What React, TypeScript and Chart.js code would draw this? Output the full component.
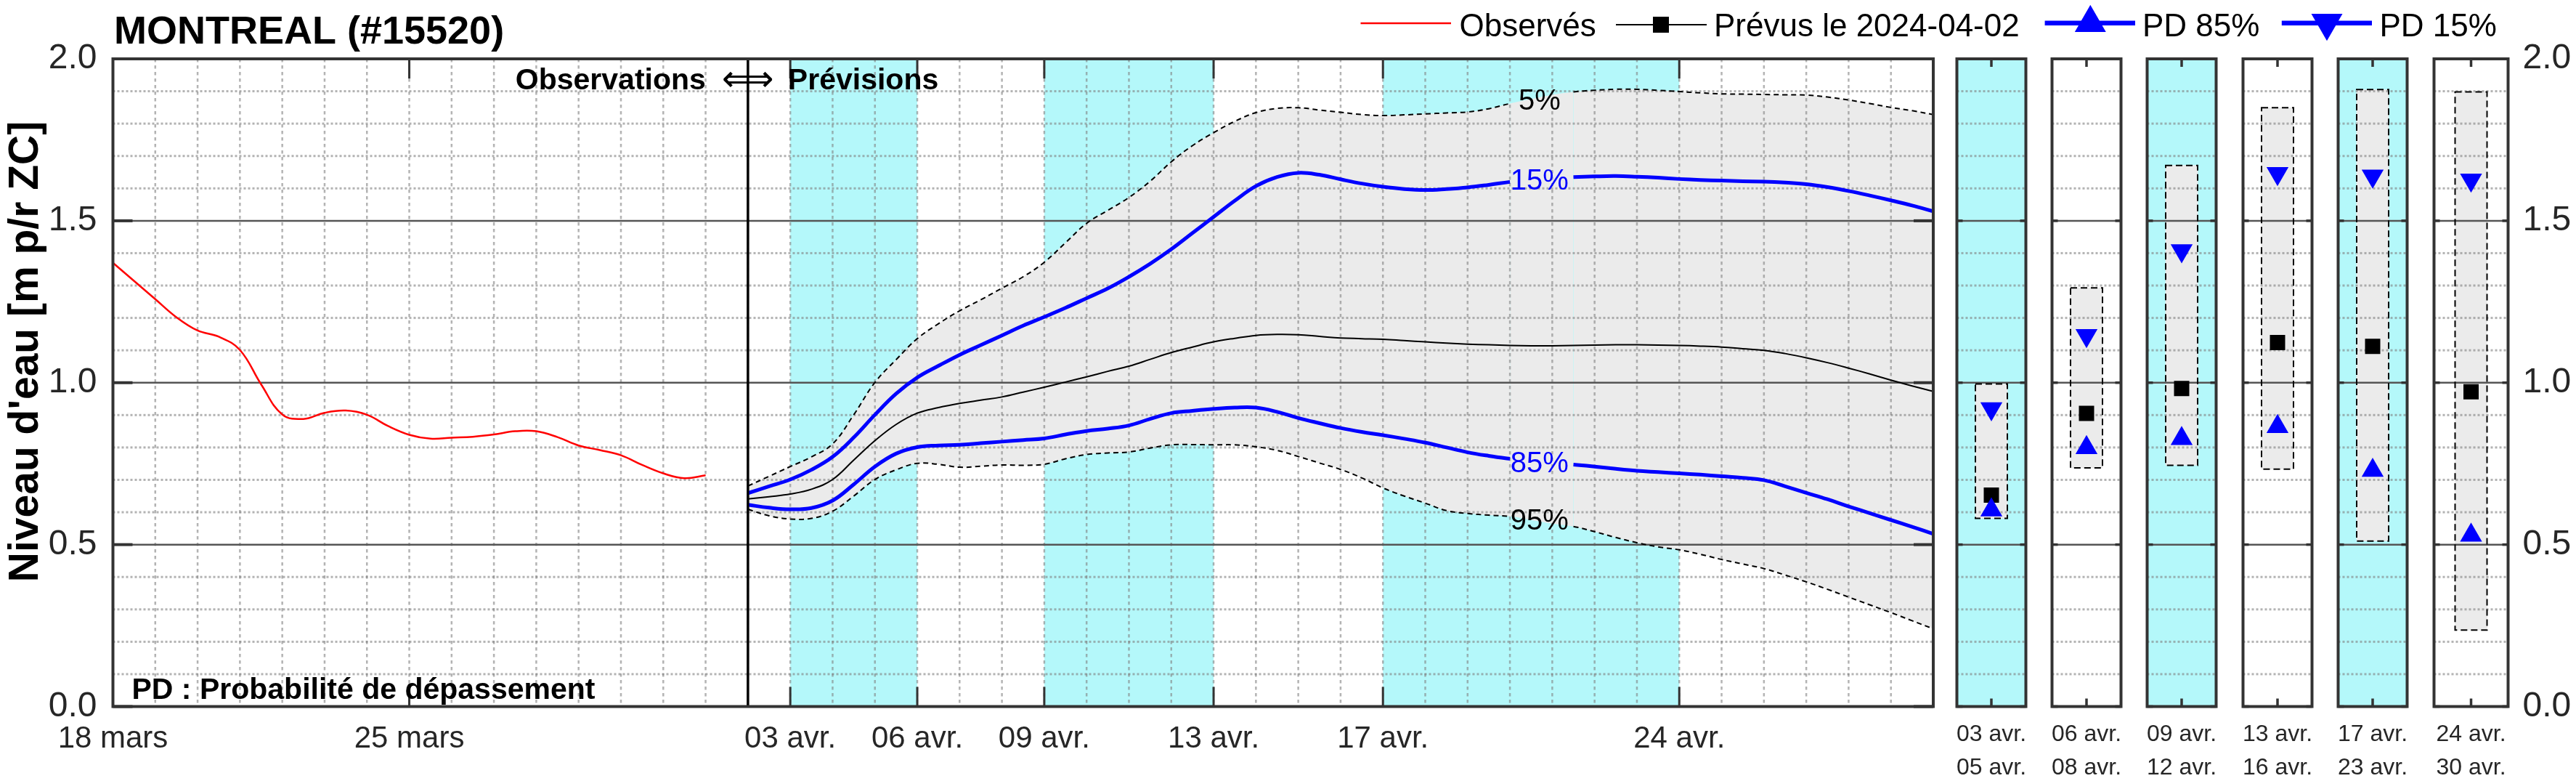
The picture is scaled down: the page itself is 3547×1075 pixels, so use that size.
import { useEffect, useRef } from 'react';
import { Chart, registerables } from 'chart.js';

Chart.register(...registerables);

// ---------------- DATA ----------------
const chartTitle = 'MONTREAL (#15520)';
const yAxisTitle = "Niveau d'eau [m p/r ZC]";
const legendLabels = ['Observés', 'Prévus le 2024-04-02', 'PD 85%', 'PD 15%'];

// x in days since 18 mars 00:00
const mainTickDays = [0, 7, 16, 19, 22, 26, 30, 37];
const mainTickLabels = ['18 mars', '25 mars', '03 avr.', '06 avr.', '09 avr.', '13 avr.', '17 avr.', '24 avr.'];
const shadedRanges = [[16, 19], [22, 26], [30, 37]];
const forecastStartDay = 15;
const dayMin = 0;
const dayMax = 43;

const obsDays = [0, 0.5, 1, 1.5, 2, 2.5, 3, 3.5, 4, 4.5, 5, 5.5, 6, 6.5, 7, 7.5, 8, 8.5, 9, 9.5, 10, 10.5, 11, 11.5, 12, 12.5, 13, 13.5, 14];
const obsLevels = [1.370, 1.314, 1.258, 1.202, 1.161, 1.142, 1.101, 0.995, 0.902, 0.888, 0.907, 0.914, 0.901, 0.866, 0.839, 0.827, 0.830, 0.833, 0.840, 0.850, 0.850, 0.832, 0.806, 0.792, 0.776, 0.746, 0.720, 0.705, 0.714];

const fcDays = [15, 15.5, 16, 16.5, 17, 17.5, 18, 18.5, 19, 19.5, 20, 20.5, 21, 21.5, 22, 22.5, 23, 23.5, 24, 24.5, 25, 25.5, 26, 26.5, 27, 27.5, 28, 28.5, 29, 29.5, 30, 30.5, 31, 31.5, 32, 32.5, 33, 33.5, 34, 34.5, 35, 35.5, 36, 36.5, 37, 37.5, 38, 38.5, 39, 39.5, 40, 40.5, 41, 41.5, 42, 42.5, 43];
const fcP05 = [0.681, 0.711, 0.741, 0.771, 0.811, 0.901, 1.001, 1.071, 1.136, 1.182, 1.222, 1.256, 1.292, 1.327, 1.372, 1.432, 1.492, 1.532, 1.572, 1.622, 1.682, 1.732, 1.772, 1.807, 1.834, 1.847, 1.849, 1.842, 1.835, 1.828, 1.825, 1.827, 1.830, 1.833, 1.836, 1.846, 1.862, 1.876, 1.889, 1.898, 1.903, 1.906, 1.906, 1.903, 1.899, 1.895, 1.892, 1.891, 1.890, 1.889, 1.888, 1.882, 1.873, 1.862, 1.850, 1.840, 1.828];
const fcP15 = [0.659, 0.680, 0.701, 0.731, 0.771, 0.831, 0.901, 0.966, 1.016, 1.052, 1.086, 1.116, 1.146, 1.176, 1.203, 1.231, 1.261, 1.291, 1.327, 1.367, 1.412, 1.462, 1.512, 1.562, 1.607, 1.635, 1.648, 1.642, 1.628, 1.615, 1.605, 1.598, 1.595, 1.598, 1.603, 1.611, 1.620, 1.627, 1.632, 1.635, 1.637, 1.638, 1.636, 1.633, 1.629, 1.626, 1.624, 1.622, 1.621, 1.618, 1.613, 1.604, 1.592, 1.578, 1.563, 1.547, 1.529];
const fcP50 = [0.641, 0.648, 0.656, 0.671, 0.701, 0.761, 0.821, 0.871, 0.906, 0.923, 0.936, 0.946, 0.956, 0.971, 0.986, 1.002, 1.018, 1.035, 1.051, 1.072, 1.093, 1.110, 1.126, 1.137, 1.146, 1.149, 1.148, 1.143, 1.138, 1.136, 1.134, 1.130, 1.126, 1.122, 1.119, 1.117, 1.115, 1.114, 1.114, 1.115, 1.116, 1.117, 1.117, 1.116, 1.115, 1.113, 1.110, 1.105, 1.100, 1.090, 1.077, 1.062, 1.045, 1.027, 1.008, 0.990, 0.973];
const fcP85 = [0.623, 0.614, 0.609, 0.613, 0.636, 0.686, 0.741, 0.781, 0.801, 0.806, 0.808, 0.813, 0.818, 0.823, 0.828, 0.840, 0.851, 0.858, 0.868, 0.888, 0.906, 0.913, 0.919, 0.923, 0.923, 0.910, 0.891, 0.875, 0.860, 0.848, 0.838, 0.827, 0.815, 0.800, 0.785, 0.774, 0.765, 0.757, 0.751, 0.747, 0.741, 0.734, 0.728, 0.724, 0.720, 0.716, 0.711, 0.706, 0.699, 0.680, 0.660, 0.640, 0.618, 0.597, 0.576, 0.555, 0.533];
const fcP95 = [0.609, 0.589, 0.579, 0.581, 0.603, 0.650, 0.701, 0.731, 0.751, 0.748, 0.739, 0.742, 0.746, 0.745, 0.748, 0.765, 0.778, 0.783, 0.786, 0.798, 0.808, 0.809, 0.808, 0.808, 0.802, 0.791, 0.772, 0.752, 0.732, 0.706, 0.675, 0.650, 0.628, 0.605, 0.596, 0.591, 0.587, 0.576, 0.565, 0.556, 0.540, 0.522, 0.506, 0.493, 0.484, 0.470, 0.454, 0.440, 0.426, 0.406, 0.385, 0.362, 0.338, 0.314, 0.290, 0.265, 0.240];

const pctLabels = ['5%', '15%', '85%', '95%'];
const pctLabelValues = [1.868, 1.622, 0.749, 0.572];
const pctLabelDay = 33.7;
const pctGap = [33, 34.5];

const panelLabels = [['03 avr.', '05 avr.'], ['06 avr.', '08 avr.'], ['09 avr.', '12 avr.'], ['13 avr.', '16 avr.'], ['17 avr.', '23 avr.'], ['24 avr.', '30 avr.']];
const panelShaded = [true, false, true, false, true, false];
const panelP05 = [0.996, 1.293, 1.671, 1.849, 1.905, 1.898];
const panelP95 = [0.581, 0.737, 0.745, 0.733, 0.511, 0.236];
const panelP50 = [0.653, 0.905, 0.982, 1.124, 1.112, 0.972];
const panelP15 = [0.920, 1.146, 1.408, 1.646, 1.638, 1.626];
const panelP85 = [0.607, 0.799, 0.827, 0.864, 0.729, 0.529];

// ---------------- LAYOUT / STYLE ----------------
const W = 3547;
const H = 1075;
const PLOT_TOP = 81;
const PLOT_BOTTOM = 972.5;
const MAIN_LEFT = 155.5;
const MAIN_RIGHT = 2662;
const PANEL_LEFT0 = 2686.5;
const PANEL_STEP = 131.4;
const PANEL_W = 110;
const PANEL_MARGIN = 10;

const FONT = '"Liberation Sans", Arial, Helvetica, sans-serif';
const TEXT = '#262626';
const CYAN = '#b4f8fa';
const BAND = '#ebebeb';
const BLUE = '#0000ff';
const FRAME = '#333333';
const GRID = 'rgba(128,128,128,0.6)';
const MAJOR = '#555555';

const toXY = (xs: number[], ys: number[]) => xs.map((x, i) => ({ x, y: ys[i] }));

function line(ctx: CanvasRenderingContext2D, x0: number, y0: number, x1: number, y1: number) {
  ctx.beginPath();
  ctx.moveTo(x0, y0);
  ctx.lineTo(x1, y1);
  ctx.stroke();
}

function triangle(ctx: CanvasRenderingContext2D, cx: number, cy: number, r: number, down: boolean) {
  const s = down ? -1 : 1;
  ctx.beginPath();
  ctx.moveTo(cx, cy - s * r);
  ctx.lineTo(cx + r * 0.8660254, cy + (s * r) / 2);
  ctx.lineTo(cx - r * 0.8660254, cy + (s * r) / 2);
  ctx.closePath();
  ctx.fill();
}

function drawHGrid(ctx: CanvasRenderingContext2D, a: any, y: any) {
  ctx.save();
  for (let k = 1; k < 20; k++) {
    const py = y.getPixelForValue(k / 10);
    if (k % 5 === 0) {
      ctx.setLineDash([]);
      ctx.strokeStyle = MAJOR;
      ctx.lineWidth = 2.5;
    } else {
      ctx.setLineDash([3, 3]);
      ctx.strokeStyle = GRID;
      ctx.lineWidth = 3;
    }
    line(ctx, a.left, py, a.right, py);
  }
  ctx.restore();
}

const BAND_INDEX = 6;

const inGap = (c: any) => c.p0.parsed.x >= pctGap[0] - 1e-9 && c.p1.parsed.x <= pctGap[1] + 1e-9;

const mainDecor = {
  id: 'mainDecor',
  beforeDatasetsDraw(chart: any) {
    const { ctx, chartArea: a, scales } = chart;
    const x = scales.x;
    ctx.save();
    ctx.fillStyle = CYAN;
    for (const [d0, d1] of shadedRanges) {
      const x0 = x.getPixelForValue(d0);
      const x1 = x.getPixelForValue(d1);
      ctx.fillRect(x0, a.top, x1 - x0, a.bottom - a.top);
    }
    ctx.restore();
  },
  afterDatasetDraw(chart: any, args: any) {
    if (args.index !== BAND_INDEX) return;
    const { ctx, chartArea: a, scales } = chart;
    const x = scales.x;
    ctx.save();
    ctx.strokeStyle = GRID;
    ctx.lineWidth = 2.5;
    ctx.setLineDash([4.5, 4.5]);
    for (let d = dayMin + 1; d < dayMax; d++) {
      const px = x.getPixelForValue(d);
      line(ctx, px, a.top, px, a.bottom);
    }
    ctx.restore();
    drawHGrid(ctx, a, scales.y);
  },
  afterDatasetsDraw(chart: any) {
    const { ctx, chartArea: a, scales } = chart;
    const x = scales.x;
    const y = scales.y;
    ctx.save();
    // percentile labels
    ctx.font = `40px ${FONT}`;
    ctx.textAlign = 'center';
    ctx.textBaseline = 'middle';
    const colors = ['#000', BLUE, BLUE, '#000'];
    pctLabels.forEach((t, k) => {
      ctx.fillStyle = colors[k];
      ctx.fillText(t, x.getPixelForValue(pctLabelDay), y.getPixelForValue(pctLabelValues[k]));
    });
    // separator
    const sx = x.getPixelForValue(forecastStartDay);
    ctx.strokeStyle = '#000';
    ctx.lineWidth = 3.5;
    line(ctx, sx, a.top, sx, a.bottom);
    // ticks
    ctx.strokeStyle = FRAME;
    ctx.lineWidth = 3;
    for (const d of mainTickDays) {
      const px = x.getPixelForValue(d);
      line(ctx, px, a.top, px, a.top + 27);
      line(ctx, px, a.bottom, px, a.bottom - 27);
    }
    ctx.lineWidth = 4;
    for (const t of y.ticks) {
      const py = y.getPixelForValue(t.value);
      line(ctx, a.left, py, a.left + 27, py);
      line(ctx, a.right, py, a.right - 27, py);
    }
    // frame
    ctx.strokeStyle = FRAME;
    ctx.lineWidth = 4;
    ctx.strokeRect(a.left, a.top, a.right - a.left, a.bottom - a.top);
    // texts
    ctx.fillStyle = '#000';
    ctx.textBaseline = 'alphabetic';
    ctx.font = `bold 41px ${FONT}`;
    ctx.textAlign = 'right';
    ctx.fillText('Observations', sx - 58, 123);
    ctx.textAlign = 'left';
    ctx.fillText('Prévisions', sx + 55, 123);
    ctx.textAlign = 'center';
    ctx.font = `50px "DejaVu Sans", sans-serif`;
    ctx.fillText('\u27FA', sx, 125);
    ctx.textAlign = 'left';
    ctx.font = `bold 41px ${FONT}`;
    ctx.fillText('PD : Probabilité de dépassement', a.left + 26, 962);
    ctx.restore();
  },
  afterDraw(chart: any) {
    const { ctx } = chart;
    ctx.save();
    ctx.fillStyle = '#000';
    ctx.textAlign = 'left';
    ctx.textBaseline = 'alphabetic';
    ctx.font = `bold 54px ${FONT}`;
    ctx.fillText(chartTitle, 157, 60);
    // y axis title
    ctx.save();
    ctx.translate(36, 484);
    ctx.rotate(-Math.PI / 2);
    ctx.textAlign = 'center';
    ctx.textBaseline = 'middle';
    ctx.font = `bold 57px ${FONT}`;
    ctx.fillText(yAxisTitle, 0, 0);
    ctx.restore();
    // legend
    ctx.font = `44px ${FONT}`;
    ctx.strokeStyle = '#ff0000';
    ctx.lineWidth = 2.5;
    line(ctx, 1873.5, 32, 1998, 32);
    ctx.fillText(legendLabels[0], 2009.5, 50);
    ctx.strokeStyle = '#000';
    ctx.lineWidth = 2;
    line(ctx, 2225, 34, 2350, 34);
    ctx.fillRect(2276, 23, 22, 22);
    ctx.fillText(legendLabels[1], 2360, 50);
    ctx.strokeStyle = BLUE;
    ctx.fillStyle = BLUE;
    ctx.lineWidth = 6.5;
    line(ctx, 2815.6, 31.7, 2940, 31.7);
    triangle(ctx, 2878.3, 31.5, 24.8, false);
    line(ctx, 3141.8, 31.7, 3266, 31.7);
    triangle(ctx, 3204, 31.5, 24.8, true);
    ctx.fillStyle = '#000';
    ctx.fillText(legendLabels[2], 2950, 50);
    ctx.fillText(legendLabels[3], 3276.5, 50);
    ctx.restore();
  },
};

function makeMain(canvas: HTMLCanvasElement) {
  const lineBase = { pointRadius: 0, tension: 0.4 };
  return new Chart(canvas, {
    type: 'line',
    data: {
      datasets: [
        { label: legendLabels[0], data: toXY(obsDays, obsLevels), borderColor: '#ff0000', borderWidth: 2.5, fill: false, ...lineBase },
        { label: legendLabels[3], data: toXY(fcDays, fcP15), borderColor: BLUE, borderWidth: 5, fill: false, segment: { borderColor: (c: any) => (inGap(c) ? 'rgba(0,0,0,0)' : undefined) }, ...lineBase },
        { label: legendLabels[2], data: toXY(fcDays, fcP85), borderColor: BLUE, borderWidth: 5, fill: false, segment: { borderColor: (c: any) => (inGap(c) ? 'rgba(0,0,0,0)' : undefined) }, ...lineBase },
        { label: legendLabels[1], data: toXY(fcDays, fcP50), borderColor: '#000', borderWidth: 2, fill: false, ...lineBase },
        { label: '5%', data: toXY(fcDays, fcP05), borderColor: '#000', borderWidth: 2, borderDash: [7, 5], fill: false, segment: { borderColor: (c: any) => (inGap(c) ? 'rgba(0,0,0,0)' : undefined) }, ...lineBase },
        { label: '95%', data: toXY(fcDays, fcP95), borderColor: '#000', borderWidth: 2, borderDash: [7, 5], fill: false, segment: { borderColor: (c: any) => (inGap(c) ? 'rgba(0,0,0,0)' : undefined) }, ...lineBase },
        { label: 'band', data: toXY(fcDays, fcP95), borderColor: 'rgba(0,0,0,0)', borderWidth: 0, backgroundColor: BAND, ...lineBase, fill: 4 },
      ],
    },
    options: {
      responsive: false,
      animation: false,
      devicePixelRatio: 1,
      events: [],
      layout: { padding: { left: 0, right: W - MAIN_RIGHT, top: PLOT_TOP, bottom: 0 } },
      plugins: { legend: { display: false }, tooltip: { enabled: false }, title: { display: false } },
      scales: {
        x: {
          type: 'linear',
          min: dayMin,
          max: dayMax,
          afterBuildTicks: (s: any) => {
            s.ticks = mainTickDays.map((value) => ({ value }));
          },
          afterFit: (s: any) => {
            s.height = H - PLOT_BOTTOM;
            s.paddingLeft = 0;
            s.paddingRight = 0;
          },
          grid: { display: false, drawTicks: false },
          border: { display: false },
          ticks: {
            autoSkip: false,
            maxRotation: 0,
            padding: 19.3,
            color: TEXT,
            font: { family: FONT, size: 42 },
            callback: (v: any) => mainTickLabels[mainTickDays.indexOf(Number(v))] ?? '',
          },
        },
        y: {
          type: 'linear',
          min: 0,
          max: 2,
          afterFit: (s: any) => {
            s.width = MAIN_LEFT;
            s.paddingTop = 0;
            s.paddingBottom = 0;
          },
          grid: { display: false, drawTicks: false },
          border: { display: false },
          ticks: { stepSize: 0.5, padding: 22, color: TEXT, font: { family: FONT, size: 48 }, callback: (v: any) => Number(v).toFixed(1) },
        },
      },
    } as any,
    plugins: [mainDecor],
  } as any);
}

function makePanel(canvas: HTMLCanvasElement, i: number) {
  const isLast = i === panelLabels.length - 1;
  const panelRight = PANEL_LEFT0 + i * PANEL_STEP + PANEL_W;
  const decor = {
    id: 'panelDecor',
    beforeDatasetsDraw(chart: any) {
      if (!panelShaded[i]) return;
      const { ctx, chartArea: a } = chart;
      ctx.save();
      ctx.fillStyle = CYAN;
      ctx.fillRect(a.left, a.top, a.right - a.left, a.bottom - a.top);
      ctx.restore();
    },
    afterDatasetDraw(chart: any, args: any) {
      if (args.index !== 3) return;
      const { ctx, chartArea: a, scales } = chart;
      drawHGrid(ctx, a, scales.y);
      const bar = args.meta.data[0];
      const p = bar.getProps(['x', 'y', 'base', 'width'], true);
      const top = Math.min(p.y, p.base);
      const h = Math.abs(p.base - p.y);
      ctx.save();
      ctx.strokeStyle = '#000';
      ctx.lineWidth = 2;
      ctx.setLineDash([9, 5]);
      ctx.strokeRect(p.x - p.width / 2, top, p.width, h);
      ctx.restore();
    },
    afterDatasetsDraw(chart: any) {
      const { ctx, chartArea: a, scales } = chart;
      const y = scales.y;
      const x = scales.x;
      ctx.save();
      ctx.strokeStyle = FRAME;
      ctx.lineWidth = 3.5;
      const cx = x.getPixelForValue(0);
      line(ctx, cx, a.top, cx, a.top + 11);
      line(ctx, cx, a.bottom, cx, a.bottom - 11);
      for (const t of y.ticks) {
        const py = y.getPixelForValue(t.value);
        line(ctx, a.left, py, a.left + 8, py);
        line(ctx, a.right, py, a.right - 8, py);
      }
      ctx.lineWidth = 4;
      ctx.strokeRect(a.left, a.top, a.right - a.left, a.bottom - a.top);
      ctx.restore();
    },
  };
  return new Chart(canvas, {
    type: 'bar',
    data: {
      labels: [panelLabels[i]],
      datasets: [
        { type: 'line', label: legendLabels[3], data: [panelP15[i]], showLine: false, pointStyle: 'triangle', pointRotation: 180, pointRadius: 17.5, pointBackgroundColor: BLUE, pointBorderWidth: 0 },
        { type: 'line', label: legendLabels[2], data: [panelP85[i]], showLine: false, pointStyle: 'triangle', pointRotation: 0, pointRadius: 17.5, pointBackgroundColor: BLUE, pointBorderWidth: 0 },
        { type: 'line', label: legendLabels[1], data: [panelP50[i]], showLine: false, pointStyle: 'rect', pointRadius: 14.85, pointBackgroundColor: '#000', pointBorderWidth: 0 },
        { type: 'bar', label: '5%-95%', data: [[panelP95[i], panelP05[i]]], backgroundColor: BAND, borderWidth: 0, barThickness: 44 },
      ],
    },
    options: {
      responsive: false,
      animation: false,
      devicePixelRatio: 1,
      events: [],
      layout: { padding: { left: PANEL_MARGIN, right: isLast ? 0 : PANEL_MARGIN, top: PLOT_TOP, bottom: 0 } },
      plugins: { legend: { display: false }, tooltip: { enabled: false } },
      scales: {
        x: {
          type: 'category',
          afterFit: (s: any) => {
            s.height = H - PLOT_BOTTOM;
            s.paddingLeft = 0;
            s.paddingRight = 0;
          },
          grid: { display: false, drawTicks: false },
          border: { display: false },
          ticks: { autoSkip: false, maxRotation: 0, padding: 15.5, color: TEXT, font: { family: FONT, size: 32, lineHeight: 1.4375 } },
        },
        y: {
          type: 'linear',
          position: 'right',
          display: isLast,
          min: 0,
          max: 2,
          afterFit: (s: any) => {
            if (isLast) s.width = W - panelRight;
            s.paddingTop = 0;
            s.paddingBottom = 0;
          },
          grid: { display: false, drawTicks: false },
          border: { display: false },
          ticks: { stepSize: 0.5, padding: 20, color: TEXT, font: { family: FONT, size: 48 }, callback: (v: any) => Number(v).toFixed(1) },
        },
      },
    } as any,
    plugins: [decor],
  } as any);
}

export default function App() {
  const mainRef = useRef<HTMLCanvasElement | null>(null);
  const panelRefs = useRef<(HTMLCanvasElement | null)[]>([]);

  useEffect(() => {
    document.body.style.margin = '0';
    const charts: Chart[] = [];
    if (mainRef.current) charts.push(makeMain(mainRef.current));
    panelRefs.current.forEach((c, i) => {
      if (c) charts.push(makePanel(c, i));
    });
    return () => charts.forEach((c) => c.destroy());
  }, []);

  return (
    <div style={{ position: 'relative', width: W, height: H, background: '#fff', overflow: 'hidden' }}>
      <canvas ref={mainRef} width={W} height={H} style={{ position: 'absolute', left: 0, top: 0, width: W, height: H }} />
      {panelLabels.map((_, i) => {
        const left = PANEL_LEFT0 + i * PANEL_STEP - PANEL_MARGIN;
        const isLast = i === panelLabels.length - 1;
        const w = isLast ? W - left : PANEL_W + 2 * PANEL_MARGIN;
        return (
          <canvas
            key={i}
            ref={(el) => {
              panelRefs.current[i] = el;
            }}
            width={w}
            height={H}
            style={{ position: 'absolute', left, top: 0, width: w, height: H }}
          />
        );
      })}
    </div>
  );
}
